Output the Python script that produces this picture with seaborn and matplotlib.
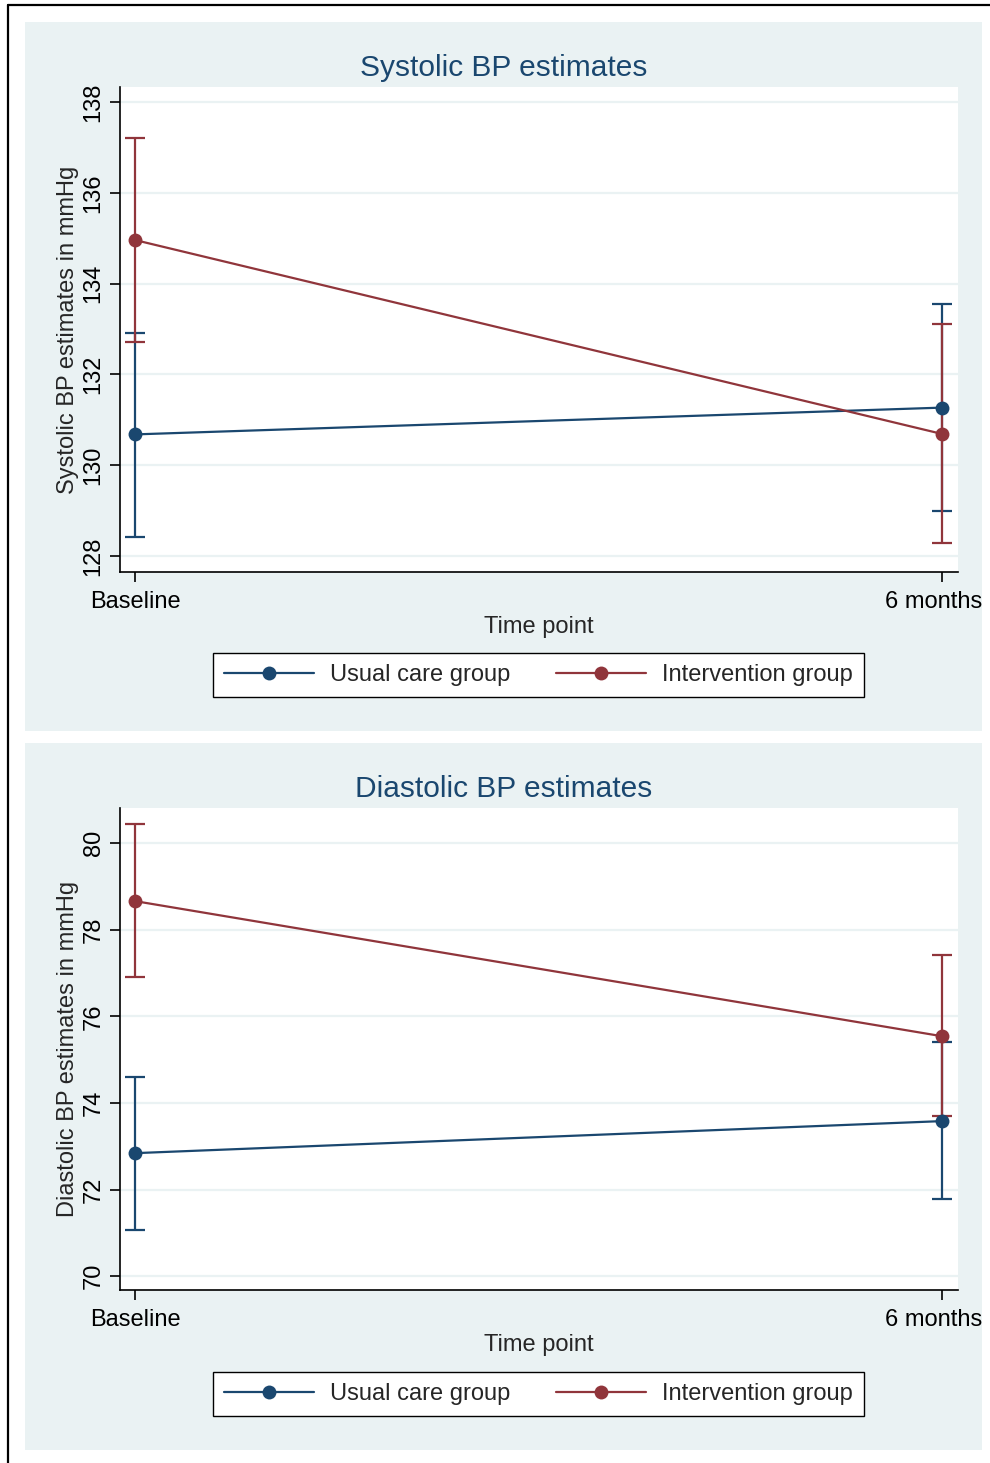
import numpy as np
import pandas as pd
import seaborn as sns
import matplotlib.pyplot as plt
import matplotlib.transforms as mtransforms
from matplotlib.lines import Line2D
from matplotlib.patches import Rectangle

# data
time_labels = ['Baseline', '6 months']
groups = ['Usual care group', 'Intervention group']

sys_usual = [130.68, 131.27]
sys_usual_lo = [128.42, 128.99]
sys_usual_hi = [132.91, 133.55]
sys_interv = [134.96, 130.69]
sys_interv_lo = [132.71, 128.29]
sys_interv_hi = [137.21, 133.11]

dia_usual = [72.84, 73.58]
dia_usual_lo = [71.06, 71.78]
dia_usual_hi = [74.60, 75.40]
dia_interv = [78.66, 75.54]
dia_interv_lo = [76.91, 73.70]
dia_interv_hi = [80.44, 77.41]

sys_ticks = [128, 130, 132, 134, 136, 138]
dia_ticks = [70, 72, 74, 76, 78, 80]

navy = '#1a476f'
maroon = '#90353b'
panel_bg = '#eaf2f3'

sns.set_style('ticks')
plt.rcParams['font.family'] = ['Liberation Sans', 'DejaVu Sans']

W, H = 990, 1463
fig = plt.figure(figsize=(W / 100, H / 100), dpi=100)


def fx(x):
    return x / W


def fy(y):
    return 1 - y / H


def draw_panel(top, bottom, ax_top, ax_bot, est_u, lo_u, hi_u, est_i, lo_i, hi_i,
               ylim, yticks, title, ylabel, title_y, legend_y):
    fig.add_artist(Rectangle((fx(25), fy(bottom)), fx(982) - fx(25), fy(top) - fy(bottom),
                             transform=fig.transFigure, facecolor=panel_bg,
                             edgecolor='none', zorder=0))
    ax = fig.add_axes([fx(120), fy(ax_bot), fx(958) - fx(120), fy(ax_top) - fy(ax_bot)])
    ax.set_facecolor('white')

    df = pd.DataFrame({'time': [0, 1, 0, 1],
                       'est': est_u + est_i,
                       'group': [groups[0]] * 2 + [groups[1]] * 2})

    for est, lo, hi, c in [(est_u, lo_u, hi_u, navy), (est_i, lo_i, hi_i, maroon)]:
        yerr = [np.subtract(est, lo), np.subtract(hi, est)]
        ax.errorbar([0, 1], est, yerr=yerr, fmt='none', ecolor=c, elinewidth=1.6,
                    capsize=7, capthick=1.6, zorder=2)

    sns.lineplot(data=df, x='time', y='est', hue='group', palette=[navy, maroon],
                 marker='o', markersize=10, markeredgewidth=0, linewidth=1.6,
                 ax=ax, legend=False, zorder=3)

    ax.set_xlim(-0.0186, 1.0198)
    ax.set_ylim(*ylim)
    ax.set_xticks([0, 1])
    ax.set_xticklabels(time_labels)
    ax.set_yticks(yticks)
    ax.set_yticklabels([str(t) for t in yticks])
    ax.tick_params(axis='y', labelrotation=90, length=7, width=1.2, pad=4,
                   labelsize=17, colors='black')
    ax.tick_params(axis='x', length=7, width=1.2, pad=7, labelsize=17, colors='black')
    plt.setp(ax.get_yticklabels(), va='center')
    # keep "6 months" inside the panel
    lab = ax.get_xticklabels()[1]
    lab.set_transform(lab.get_transform() +
                      mtransforms.ScaledTranslation(-8 / 100, 0, fig.dpi_scale_trans))

    sns.despine(ax=ax)
    for s in ['left', 'bottom']:
        ax.spines[s].set_color('black')
        ax.spines[s].set_linewidth(1.2)
    ax.yaxis.grid(True, color=panel_bg, lw=1.6)
    ax.set_axisbelow(True)

    ax.set_xlabel('Time point', fontsize=17)
    ax.set_ylabel(ylabel, fontsize=17)
    ax.xaxis.set_label_coords(0.5, -44 / (ax_bot - ax_top))
    ax.yaxis.set_label_coords((79 - 120) / 838, 0.5)

    fig.text(fx(503.5), fy(title_y), title, ha='center', va='center',
             fontsize=21.5, color=navy)

    handles = [Line2D([], [], color=navy, marker='o', markersize=10, lw=1.6, markeredgewidth=0),
               Line2D([], [], color=maroon, marker='o', markersize=10, lw=1.6, markeredgewidth=0)]
    leg = fig.legend(handles, groups, loc='center', bbox_to_anchor=(fx(538.5), fy(legend_y)),
                     ncol=2, frameon=True, fancybox=False, framealpha=1, edgecolor='black',
                     fontsize=17, handlelength=3.8, handletextpad=0.7, columnspacing=1.93,
                     borderpad=0.45)
    leg.get_frame().set_linewidth(1.0)
    return ax


draw_panel(22, 731, 87, 572, sys_usual, sys_usual_lo, sys_usual_hi,
           sys_interv, sys_interv_lo, sys_interv_hi,
           (127.65, 138.33), sys_ticks, 'Systolic BP estimates',
           'Systolic BP estimates in mmHg', 68, 675)

draw_panel(743, 1450, 808, 1290, dia_usual, dia_usual_lo, dia_usual_hi,
           dia_interv, dia_interv_lo, dia_interv_hi,
           (69.68, 80.81), dia_ticks, 'Diastolic BP estimates',
           'Diastolic BP estimates in mmHg', 789, 1394)

# outer frame
fig.add_artist(Line2D([fx(8), fx(8)], [0, fy(5)], color='black', lw=1.6,
                      transform=fig.transFigure))
fig.add_artist(Line2D([fx(8), 1], [fy(5), fy(5)], color='black', lw=1.6,
                      transform=fig.transFigure))

plt.savefig('out.png', dpi=100)
